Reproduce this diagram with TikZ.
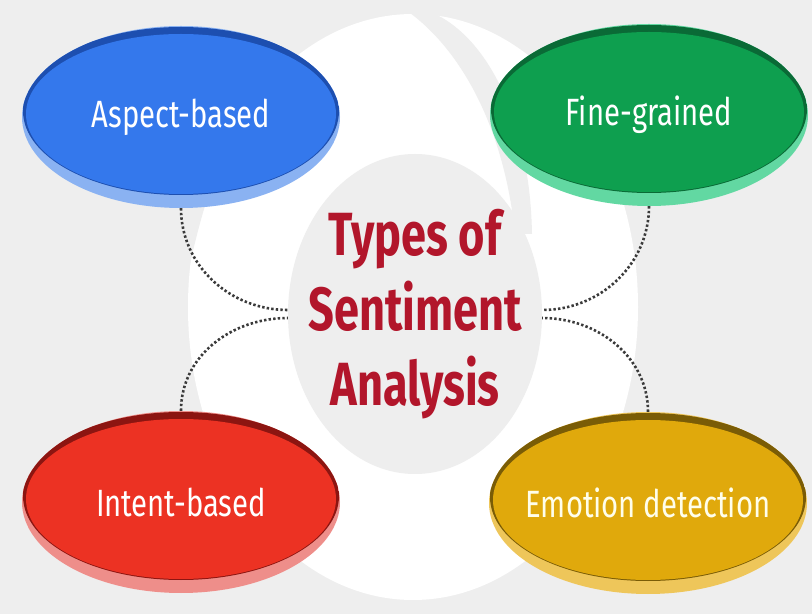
\documentclass[tikz,border=0pt]{standalone}
\usepackage{fontspec}
\usetikzlibrary{shapes.geometric}
\newfontfamily\labelfont{Fira Sans}[FakeStretch=0.77]
\newfontfamily\titlefont{Fira Sans}[FakeStretch=0.74]
\definecolor{bggray}{HTML}{EEEEEE}
\definecolor{blueface}{HTML}{3478EC}
\definecolor{bluedark}{HTML}{1D4FB0}
\definecolor{bluelight}{HTML}{8AB2F2}
\definecolor{greenface}{HTML}{0E9F4F}
\definecolor{greendark}{HTML}{0A6A36}
\definecolor{greenlight}{HTML}{62D8A2}
\definecolor{redface}{HTML}{EC3223}
\definecolor{reddark}{HTML}{8C1511}
\definecolor{redlight}{HTML}{EE8E8A}
\definecolor{yellowface}{HTML}{E0A90C}
\definecolor{yellowdark}{HTML}{7A5C06}
\definecolor{yellowlight}{HTML}{EEC65A}
\definecolor{titlered}{HTML}{B2162B}
\definecolor{dotgray}{HTML}{3A3A3A}
\tikzset{
  bubble/.style n args={3}{ellipse, minimum width=318pt, minimum height=182pt,
    inner ysep=0pt, inner xsep=-45pt,
    fill=#3, text=white, font=\labelfont\fontsize{38}{40}\selectfont,
    path picture={
      \fill[#2] ([yshift=6pt]path picture bounding box.center) ellipse[x radius=158pt, y radius=84pt];
      \fill[#1] ([yshift=3pt]path picture bounding box.center) ellipse[x radius=155pt, y radius=80pt];
    }},
  dotline/.style={draw=dotgray, line width=2.6pt, dash pattern=on 2.4pt off 2.2pt}
}
\begin{document}
\begin{tikzpicture}[x=1pt, y=1pt]
\useasboundingbox (0,0) rectangle (812,614);
\fill[bggray] (0,0) rectangle (812,614);
% white swirl behind the centre
\fill[white] (413,307) ellipse[x radius=225pt, y radius=293pt];
\fill[bggray] (186,330) .. controls (205,430) and (245,540) .. (307,574) .. controls (345,592) and (380,600) .. (410,601) -- (410,614) -- (180,614) -- cycle;
\fill[bggray] (410,601) .. controls (465,560) and (505,480) .. (515,380) -- (532,380) .. controls (530,490) and (490,575) .. (433,601) -- cycle;

\node[ellipse, fill=bggray, minimum width=254pt, minimum height=320pt, inner sep=-40pt,
  align=center, text=titlered, font=\titlefont\bfseries\fontsize{61}{75}\selectfont]
  (title) at (415,300) {Types of\\Sentiment\\Analysis};

\node[bubble={blueface}{bluedark}{bluelight}] (aspect) at (181,497) {Aspect-based};
\node[bubble={greenface}{greendark}{greenlight}] (fine) at (649,499) {Fine-grained};
\node[bubble={redface}{reddark}{redlight}] (intent) at (181,112) {Intent-based};
\node[bubble={yellowface}{yellowdark}{yellowlight}, text=white!92!yellow] (emotion) at (648,111) {Emotion detection};

\draw[dotline] (aspect.south) to[out=-90, in=180] ([yshift=4pt]title.west);
\draw[dotline] (intent.north) to[out=90, in=180] ([yshift=-4pt]title.west);
\draw[dotline] (fine.south) to[out=-90, in=0] ([yshift=4pt]title.east);
\draw[dotline] (emotion.north) to[out=90, in=0] ([yshift=-4pt]title.east);
\end{tikzpicture}
\end{document}
